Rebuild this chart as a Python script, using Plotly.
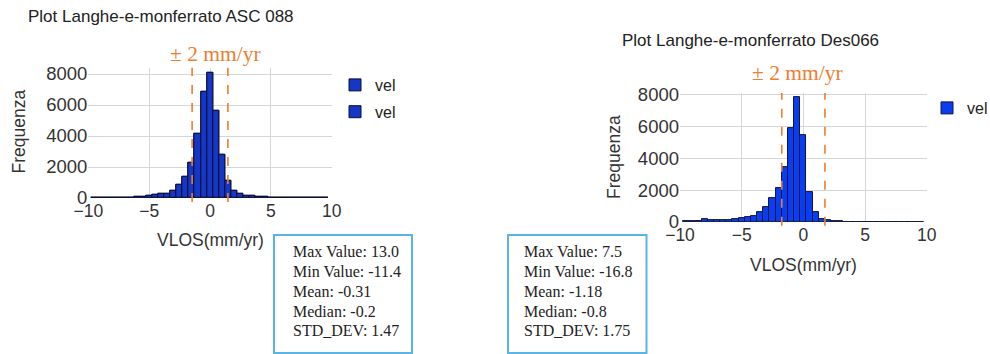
import plotly.graph_objects as go

# Histogram bin centres (bin width 0.5 mm/yr)
bin_centers = [-9.5, -9.0, -8.5, -8.0, -7.5, -7.0, -6.5, -6.0, -5.5, -5.0,
               -4.5, -4.0, -3.5, -3.0, -2.5, -2.0, -1.5, -1.0, -0.5, 0.0,
               0.5, 1.0, 1.5, 2.0, 2.5, 3.0, 3.5, 4.0, 4.5, 5.0,
               5.5, 6.0, 6.5, 7.0, 7.5, 8.0, 8.5, 9.0, 9.5]

# Counts per bin, ascending orbit ASC 088
asc_counts = [5, 6, 8, 10, 14, 20, 35, 60, 85, 130,
              195, 260, 280, 496, 820, 1340, 2290, 4120, 6860, 8110,
              5630, 2780, 1080, 455, 280, 150, 130, 105, 65, 45,
              35, 28, 22, 18, 14, 10, 8, 6, 0]

# Counts per bin, descending orbit Des066
des_counts = [40, 45, 60, 167, 110, 105, 110, 140, 188, 230,
              290, 398, 600, 930, 1487, 2157, 3476, 5920, 7860, 5466,
              1875, 600, 200, 110, 63, 40, 15, 8, 5, 4,
              3, 0, 0, 0, 10, 0, 0, 0, 0]

x_ticks = [-10, -5, 0, 5, 10]
y_ticks = [0, 2000, 4000, 6000, 8000]
y_tick_text = ["0", "2000", "4000", "6000", "8000"]

asc_title = "Plot Langhe-e-monferrato ASC 088"
des_title = "Plot Langhe-e-monferrato Des066"
band_label = "± 2 mm/yr"

stat_names = ["Max Value", "Min Value", "Mean", "Median", "STD_DEV"]
asc_stats = ["13.0", "-11.4", "-0.31", "-0.2", "1.47"]
des_stats = ["7.5", "-16.8", "-1.18", "-0.8", "1.75"]
asc_std = 1.47
des_std = 1.75

W, H = 990, 354
ORANGE = "#ed7d31"
BOX = "#5ab4e6"
SANS = "Arial, Liberation Sans, sans-serif"
SERIF = "Liberation Serif, Times New Roman, serif"


def px(x):
    return x / W


def py(y):
    return 1 - y / H


fig = go.Figure()

# Ascending histogram drawn as two overlaid "vel" traces
for i in range(2):
    fig.add_trace(go.Bar(
        x=bin_centers, y=asc_counts, width=0.5, name="vel",
        marker=dict(color="#1636c6", line=dict(color="#0b1034", width=1)),
        xaxis="x", yaxis="y", legend="legend", legendgroup=f"a{i}",
        showlegend=True,
    ))

fig.add_trace(go.Bar(
    x=bin_centers, y=des_counts, width=0.5, name="vel",
    marker=dict(color="#0a3cf2", line=dict(color="#101838", width=1)),
    xaxis="x2", yaxis="y2", legend="legend2", showlegend=True,
))

common_x = dict(range=[-10, 10], tickvals=x_ticks, showgrid=True, gridcolor="#d6d6d6",
                gridwidth=1, zeroline=False, showline=False, ticks="", automargin=False,
                tickfont=dict(family=SANS, size=17.5, color="#333333"))
common_y = dict(tickvals=y_ticks, ticktext=y_tick_text, showgrid=True, gridcolor="#d6d6d6",
                gridwidth=1, zeroline=False, showline=False, ticks="", automargin=False,
                tickfont=dict(family=SANS, size=18.5, color="#333333"))

legend_font = dict(family=SANS, size=16, color="#222222")

fig.update_layout(
    width=W, height=H,
    margin=dict(l=0, r=0, t=0, b=0, pad=0, autoexpand=False),
    paper_bgcolor="white", plot_bgcolor="white",
    barmode="overlay", bargap=0,
    xaxis=dict(domain=[px(88.3), px(331.7)], anchor="y", **common_x),
    yaxis=dict(domain=[py(198), py(67.8)], anchor="x", range=[0, 8400], **common_y),
    xaxis2=dict(domain=[px(680), px(926.7)], anchor="y2", **common_x),
    yaxis2=dict(domain=[py(222), py(93.1)], anchor="x2", range=[0, 8100], **common_y),
    legend=dict(x=px(335), y=py(68), xanchor="left", yanchor="top", font=legend_font,
                tracegroupgap=3, bgcolor="rgba(0,0,0,0)"),
    legend2=dict(x=px(927), y=py(91), xanchor="left", yanchor="top", font=legend_font,
                 bgcolor="rgba(0,0,0,0)"),
    showlegend=True,
)

# ±STD_DEV dashed guides
for xr, yr, s in (("x", "y domain", asc_std), ("x2", "y2 domain", des_std)):
    for v in (-s, s):
        fig.add_shape(type="line", xref=xr, yref=yr, x0=v, x1=v, y0=-0.03, y1=1,
                      line=dict(color=ORANGE, width=1.6, dash="dash"))

title_font = dict(family=SANS, size=17, color="#222222")
label_font = dict(family=SANS, size=17.5, color="#333333")
band_font = dict(family=SERIF, size=21.5, color=ORANGE)
stat_font = dict(family=SERIF, size=16, color="#222222")

ann = [
    dict(text=asc_title, x=px(26), y=py(16), xanchor="left", yanchor="middle", font=title_font),
    dict(text=des_title, x=px(620), y=py(41), xanchor="left", yanchor="middle", font=title_font),
    dict(text=band_label, x=px(215), y=py(54), xanchor="center", yanchor="middle", font=band_font),
    dict(text=band_label, x=px(797.5), y=py(73), xanchor="center", yanchor="middle", font=band_font),
    dict(text="Frequenza", x=px(18.5), y=py(132), xanchor="center", yanchor="middle",
         textangle=-90, font=label_font),
    dict(text="Frequenza", x=px(614), y=py(157), xanchor="center", yanchor="middle",
         textangle=-90, font=label_font),
    dict(text="VLOS(mm/yr)", x=px(210), y=py(240), xanchor="center", yanchor="middle", font=label_font),
    dict(text="VLOS(mm/yr)", x=px(803), y=py(265), xanchor="center", yanchor="middle", font=label_font),
]

line_y = [251, 271.5, 291.5, 311, 330.5]
for left, vals in ((290.5, asc_stats), (522, des_stats)):
    for yy, name, val in zip(line_y, stat_names, vals):
        ann.append(dict(text=f"{name}: {val}", x=px(left), y=py(yy), xanchor="left",
                        yanchor="middle", font=stat_font))

for a in ann:
    a.update(xref="paper", yref="paper", showarrow=False)
fig.update_layout(annotations=ann)

# Statistics frames
for x0, x1 in ((274, 412), (508, 646.5)):
    fig.add_shape(type="rect", xref="paper", yref="paper",
                  x0=px(x0), x1=px(x1), y0=py(353), y1=py(235),
                  line=dict(color=BOX, width=2), fillcolor="rgba(0,0,0,0)")

fig.write_html("out.html")
